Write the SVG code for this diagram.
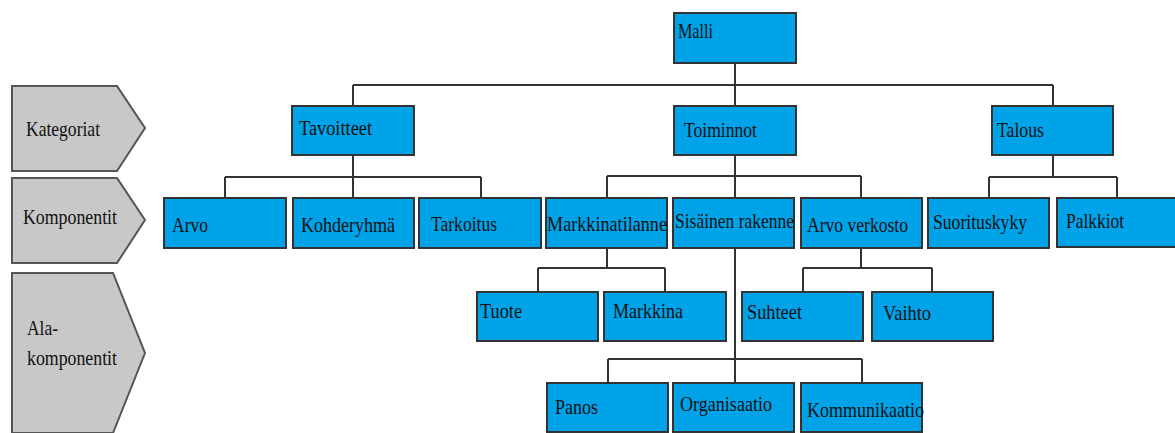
<svg xmlns="http://www.w3.org/2000/svg" width="1175" height="433" viewBox="0 0 1175 433">
<style>
.box{fill:#00A2E8;stroke:#333;stroke-width:2}
.cat{fill:#C8C8C8;stroke:#555;stroke-width:2}
.t{font-family:"Liberation Serif","Times New Roman",serif;font-size:21px;fill:#111}
.ln{fill:none;stroke:#333;stroke-width:2}
</style>
<rect width="1175" height="433" fill="#fff"/>
<g id="labels">
<g id="lbl-kategoriat"><polygon class="cat" points="12,86 117,86 145,128 117,171 12,171"/><text class="t" x="26" y="136" textLength="74" lengthAdjust="spacingAndGlyphs">Kategoriat</text></g>
<g id="lbl-komponentit"><polygon class="cat" points="12,178 117,178 145,220 117,263 12,263"/><text class="t" x="23" y="224" textLength="94" lengthAdjust="spacingAndGlyphs">Komponentit</text></g>
<g id="lbl-ala"><polygon class="cat" points="12,273 113,273 145,353 113,433 12,433"/><text class="t" x="27" y="335" textLength="31" lengthAdjust="spacingAndGlyphs">Ala-</text><text class="t" x="27" y="365" textLength="90" lengthAdjust="spacingAndGlyphs">komponentit</text></g>
</g>
<g id="connectors">
<path class="ln" d="M735,63V106M353,85H1053M353,85V106M1053,85V106"/>
<path class="ln" d="M353,155V198M225,177H481M225,177V198M481,177V198"/>
<path class="ln" d="M735,155V383M607,176H861M607,176V198M861,176V198"/>
<path class="ln" d="M1053,155V177M989,177H1117M989,177V198M1117,177V198"/>
<path class="ln" d="M607,248V268M538,268H665M538,268V292M665,268V292"/>
<path class="ln" d="M861,248V268M803,268H932M803,268V292M932,268V292"/>
<path class="ln" d="M608,359H862M608,359V383M862,359V383"/>
</g>
<g id="malli"><rect class="box" x="674" y="13" width="122" height="50"/><text class="t" x="678" y="38" textLength="35" lengthAdjust="spacingAndGlyphs">Malli</text></g>
<g id="tavoitteet"><rect class="box" x="292" y="106" width="122" height="49"/><text class="t" x="299" y="135" textLength="73" lengthAdjust="spacingAndGlyphs">Tavoitteet</text></g>
<g id="toiminnot"><rect class="box" x="674" y="106" width="122" height="49"/><text class="t" x="684" y="137" textLength="73" lengthAdjust="spacingAndGlyphs">Toiminnot</text></g>
<g id="talous"><rect class="box" x="992" y="106" width="121" height="49"/><text class="t" x="997" y="137" textLength="47" lengthAdjust="spacingAndGlyphs">Talous</text></g>
<g id="arvo"><rect class="box" x="164" y="198" width="122" height="50"/><text class="t" x="172" y="232" textLength="36" lengthAdjust="spacingAndGlyphs">Arvo</text></g>
<g id="kohderyhma"><rect class="box" x="293" y="198" width="121" height="50"/><text class="t" x="301" y="232" textLength="94" lengthAdjust="spacingAndGlyphs">Kohderyhmä</text></g>
<g id="tarkoitus"><rect class="box" x="419" y="198" width="122" height="50"/><text class="t" x="431" y="231" textLength="66" lengthAdjust="spacingAndGlyphs">Tarkoitus</text></g>
<g id="markkinatilanne"><rect class="box" x="546" y="198" width="121" height="50"/><text class="t" x="547" y="231" textLength="120" lengthAdjust="spacingAndGlyphs">Markkinatilanne</text></g>
<g id="sisainen"><rect class="box" x="673" y="198" width="121" height="50"/><text class="t" x="675" y="228" textLength="119" lengthAdjust="spacingAndGlyphs">Sisäinen rakenne</text></g>
<g id="arvoverkosto"><rect class="box" x="801" y="198" width="121" height="50"/><text class="t" x="807" y="232" textLength="101" lengthAdjust="spacingAndGlyphs">Arvo verkosto</text></g>
<g id="suorituskyky"><rect class="box" x="928" y="198" width="121" height="50"/><text class="t" x="933" y="229" textLength="94" lengthAdjust="spacingAndGlyphs">Suorituskyky</text></g>
<g id="palkkiot"><rect class="box" x="1057" y="198" width="122" height="49"/><text class="t" x="1066" y="228" textLength="58" lengthAdjust="spacingAndGlyphs">Palkkiot</text></g>
<g id="tuote"><rect class="box" x="477" y="292" width="121" height="49"/><text class="t" x="480" y="318" textLength="42" lengthAdjust="spacingAndGlyphs">Tuote</text></g>
<g id="markkina"><rect class="box" x="604" y="292" width="122" height="49"/><text class="t" x="613" y="318" textLength="70" lengthAdjust="spacingAndGlyphs">Markkina</text></g>
<g id="suhteet"><rect class="box" x="742" y="292" width="121" height="49"/><text class="t" x="747" y="319" textLength="55" lengthAdjust="spacingAndGlyphs">Suhteet</text></g>
<g id="vaihto"><rect class="box" x="872" y="292" width="121" height="49"/><text class="t" x="883" y="320" textLength="48" lengthAdjust="spacingAndGlyphs">Vaihto</text></g>
<g id="panos"><rect class="box" x="547" y="383" width="121" height="49"/><text class="t" x="555" y="414" textLength="43" lengthAdjust="spacingAndGlyphs">Panos</text></g>
<g id="organisaatio"><rect class="box" x="673" y="383" width="121" height="49"/><text class="t" x="680" y="411" textLength="92" lengthAdjust="spacingAndGlyphs">Organisaatio</text></g>
<g id="kommunikaatio"><rect class="box" x="801" y="383" width="121" height="49"/><text class="t" x="807" y="417" textLength="117" lengthAdjust="spacingAndGlyphs">Kommunikaatio</text></g>
</svg>
